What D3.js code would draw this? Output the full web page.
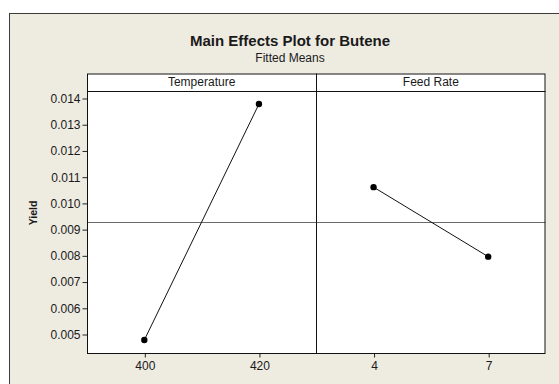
<!DOCTYPE html>
<html>
<head>
<meta charset="utf-8">
<script src="https://cdn.jsdelivr.net/npm/d3@7"></script>
<style>
  html, body { margin: 0; padding: 0; background: #ffffff; }
  svg { display: block; font-family: "Liberation Sans", Arial, sans-serif; }
</style>
</head>
<body>
<svg id="chart" width="559" height="384"></svg>
<script>
// ---- data ----
const title = "Main Effects Plot for Butene";
const subtitle = "Fitted Means";
const yLabel = "Yield";
const factors = ["Temperature", "Feed Rate"];
const temperatureLevels = ["400", "420"];
const temperatureMeans = [0.00477, 0.01377];
const feedRateLevels = ["4", "7"];
const feedRateMeans = [0.01060, 0.00795];
const grandMean = 0.00927;
const yTicks = [0.005, 0.006, 0.007, 0.008, 0.009, 0.010, 0.011, 0.012, 0.013, 0.014];
const yDomain = [0.004276, 0.014267];

const panels = [
  { name: factors[0], levels: temperatureLevels, means: temperatureMeans },
  { name: factors[1], levels: feedRateLevels, means: feedRateMeans }
];

// ---- layout ----
const W = 559, H = 384;
const plotLeft = 87, plotRight = 545.5, headerTop = 73.5, plotTop = 91, plotBottom = 353;
const bg = "#eeebe1";
const txt = "#1a1a1a";

const svg = d3.select("#chart");

svg.append("rect").attr("x", 0).attr("y", 0).attr("width", W).attr("height", H).attr("fill", "#ffffff");
svg.append("rect").attr("x", 9.5).attr("y", 13.5).attr("width", W + 10).attr("height", H + 10)
  .attr("fill", bg).attr("stroke", "#3c3c3c").attr("stroke-width", 1);

svg.append("text").attr("x", 290).attr("y", 45.5).attr("text-anchor", "middle")
  .attr("font-size", 15).attr("font-weight", "bold").attr("fill", txt).text(title);
svg.append("text").attr("x", 290).attr("y", 61.5).attr("text-anchor", "middle")
  .attr("font-size", 12).attr("fill", txt).text(subtitle);

const y = d3.scaleLinear().domain(yDomain).range([plotBottom, plotTop]);

const panelW = (plotRight - plotLeft) / panels.length;

// plot area white
svg.append("rect").attr("x", plotLeft).attr("y", headerTop).attr("width", plotRight - plotLeft)
  .attr("height", plotBottom - headerTop).attr("fill", "#ffffff");

// grand mean reference line
svg.append("line").attr("x1", plotLeft).attr("x2", plotRight)
  .attr("y1", Math.round(y(grandMean)) + 0.5).attr("y2", Math.round(y(grandMean)) + 0.5)
  .attr("stroke", "#6a6a6a").attr("stroke-width", 1);

// y axis
const yAxis = d3.axisLeft(y).tickValues(yTicks).tickFormat(d3.format(".3f")).tickSize(5).tickPadding(2);
const gy = svg.append("g").attr("transform", `translate(${plotLeft + 0.5},0.5)`).call(yAxis);
gy.select(".domain").remove();
gy.selectAll(".tick line").attr("stroke", "#222");
gy.selectAll(".tick text").attr("font-size", 12).attr("fill", txt)
  .attr("font-family", "'Liberation Sans', Arial, sans-serif");

svg.append("text").attr("transform", "translate(37,213) rotate(-90)")
  .attr("text-anchor", "middle").attr("font-size", 10.5).attr("font-weight", "bold")
  .attr("fill", txt).text(yLabel);

panels.forEach((p, i) => {
  const x0 = plotLeft + i * panelW, x1 = x0 + panelW;
  const x = d3.scalePoint().domain(p.levels).range([x0, x1]).padding(0.5);

  // header
  svg.append("text").attr("x", (x0 + x1) / 2).attr("y", 86).attr("text-anchor", "middle")
    .attr("font-size", 12).attr("fill", txt).text(p.name);

  // line
  const line = d3.line().x((d, j) => x(p.levels[j])).y(d => y(d));
  svg.append("path").datum(p.means).attr("d", line).attr("fill", "none")
    .attr("stroke", "#111").attr("stroke-width", 1);
  svg.selectAll(null).data(p.means).enter().append("circle")
    .attr("cx", (d, j) => x(p.levels[j])).attr("cy", d => y(d)).attr("r", 3.2).attr("fill", "#000");

  // x axis
  const xAxis = d3.axisBottom(x).tickSize(4).tickPadding(4);
  const gx = svg.append("g").attr("transform", `translate(0.5,${plotBottom + 0.5})`).call(xAxis);
  gx.select(".domain").remove();
  gx.selectAll(".tick line").attr("stroke", "#222");
  gx.selectAll(".tick text").attr("font-size", 12).attr("fill", txt)
    .attr("font-family", "'Liberation Sans', Arial, sans-serif");
});

// frames
const frame = svg.append("g").attr("fill", "none").attr("stroke", "#111").attr("stroke-width", 1);
frame.append("rect").attr("x", plotLeft + 0.5).attr("y", headerTop + 0.5)
  .attr("width", plotRight - plotLeft - 1).attr("height", plotBottom - headerTop);
frame.append("line").attr("x1", plotLeft).attr("x2", plotRight).attr("y1", plotTop + 0.5).attr("y2", plotTop + 0.5);
for (let i = 1; i < panels.length; i++) {
  const xx = Math.round(plotLeft + i * panelW) + 0.5;
  frame.append("line").attr("x1", xx).attr("x2", xx).attr("y1", headerTop).attr("y2", plotBottom);
}
</script>
</body>
</html>
